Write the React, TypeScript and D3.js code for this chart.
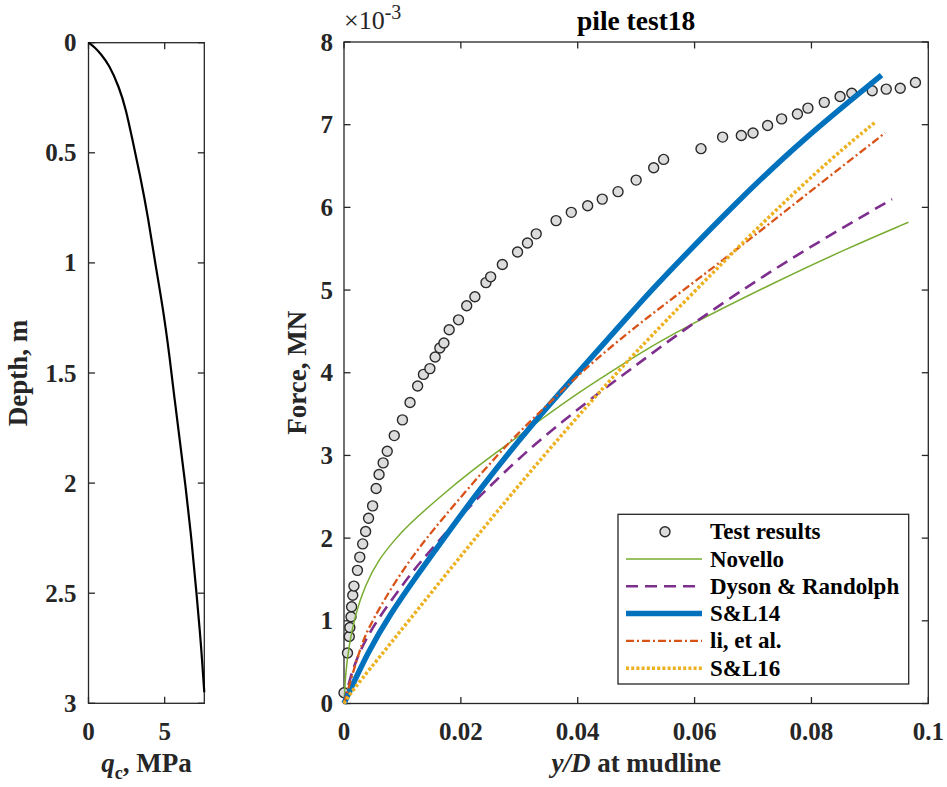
import React from "react";
import * as d3 from "d3";

// ---------- Left panel: CPT profile ----------
const cptDepth = [0, 0.02, 0.05, 0.1, 0.2, 0.3, 0.44, 0.6, 0.8, 1.0, 1.2, 1.44, 1.62, 1.8, 2.0, 2.26, 2.51, 2.68, 2.8, 2.95];
const cptQc = [0, 0.4, 0.8, 1.35, 2.0, 2.45, 2.88, 3.38, 3.93, 4.37, 4.88, 5.35, 5.65, 5.98, 6.35, 6.77, 7.1, 7.32, 7.45, 7.6];
const leftXTicks = [0, 5];
const leftYTicks = [0, 0.5, 1, 1.5, 2, 2.5, 3];

// ---------- Right panel: load-displacement ----------
const testX = [0.0, 0.0006, 0.0009, 0.001, 0.0012, 0.0013, 0.0015, 0.0017, 0.0023, 0.0027, 0.0032, 0.0037, 0.0042, 0.0049, 0.0055, 0.006, 0.0067, 0.0074, 0.0086, 0.01, 0.0113, 0.0126, 0.0136, 0.0147, 0.0156, 0.0164, 0.0171, 0.018, 0.0196, 0.021, 0.0224, 0.0243, 0.0251, 0.0271, 0.0297, 0.0314, 0.0329, 0.0363, 0.0389, 0.0417, 0.0442, 0.0469, 0.05, 0.053, 0.0547, 0.0611, 0.0648, 0.068, 0.07, 0.0725, 0.0749, 0.0776, 0.0794, 0.0822, 0.0849, 0.0869, 0.0904, 0.0928, 0.0952, 0.0978];
const testY = [0.13, 0.61, 0.81, 0.92, 1.05, 1.17, 1.31, 1.42, 1.61, 1.77, 1.93, 2.08, 2.24, 2.39, 2.6, 2.77, 2.91, 3.05, 3.24, 3.43, 3.64, 3.84, 3.98, 4.05, 4.19, 4.3, 4.36, 4.52, 4.64, 4.81, 4.92, 5.09, 5.16, 5.31, 5.46, 5.57, 5.68, 5.84, 5.94, 6.02, 6.1, 6.19, 6.33, 6.48, 6.58, 6.71, 6.85, 6.87, 6.9, 6.99, 7.07, 7.13, 7.2, 7.27, 7.34, 7.38, 7.41, 7.43, 7.44, 7.51];

const novelloX = [0, 0.0003, 0.0009, 0.0019, 0.0036, 0.0059, 0.0087, 0.0107, 0.0164, 0.0221, 0.0279, 0.0336, 0.0393, 0.045, 0.0507, 0.0581, 0.0724, 0.0866, 0.0966];
const novelloY = [0, 0.4, 0.72, 1.07, 1.43, 1.74, 1.98, 2.14, 2.5, 2.83, 3.13, 3.43, 3.72, 3.98, 4.24, 4.54, 5.05, 5.52, 5.82];

const dysonX = [0, 0.001, 0.0022, 0.0047, 0.0107, 0.0127, 0.017, 0.0216, 0.0313, 0.0376, 0.0438, 0.0502, 0.0558, 0.0672, 0.0787, 0.0938];
const dysonY = [0, 0.3, 0.55, 0.92, 1.5, 1.68, 2.03, 2.4, 3.06, 3.42, 3.77, 4.1, 4.4, 4.96, 5.48, 6.1];

const sl14X = [0, 0.0042, 0.0079, 0.0122, 0.0164, 0.0233, 0.0324, 0.0404, 0.0438, 0.0507, 0.0553, 0.0667, 0.0781, 0.092];
const sl14Y = [0, 0.64, 1.08, 1.52, 1.93, 2.6, 3.4, 4.03, 4.3, 4.85, 5.2, 6.03, 6.8, 7.6];

const liX = [0, 0.0027, 0.0042, 0.0079, 0.0119, 0.0164, 0.0267, 0.0324, 0.0421, 0.0507, 0.0553, 0.0667, 0.0781, 0.0926];
const liY = [0, 0.66, 0.92, 1.38, 1.8, 2.2, 3.05, 3.45, 4.11, 4.6, 4.85, 5.46, 6.1, 6.9];

const sl16X = [0, 0.001, 0.0079, 0.0164, 0.025, 0.0336, 0.0421, 0.0495, 0.061, 0.0724, 0.0838, 0.0911];
const sl16Y = [0, 0.12, 0.72, 1.47, 2.22, 2.95, 3.64, 4.22, 5.06, 5.87, 6.62, 7.04];

const rightXTicks = [0, 0.02, 0.04, 0.06, 0.08, 0.1];
const rightXTickLabels = ["0", "0.02", "0.04", "0.06", "0.08", "0.1"];
const rightYTicks = [0, 1, 2, 3, 4, 5, 6, 7, 8];
const legendLabels = ["Test results", "Novello", "Dyson & Randolph", "S&L14", "li, et al.", "S&L16"];

const FONT = "'Liberation Serif', 'Times New Roman', serif";
const AX = "#262626";
const TL = 6.5;

type Pt = [number, number];
const zip = (a: number[], b: number[]): Pt[] => a.map((v, i) => [v, b[i]]);

const T = (props: any) => <text fontFamily={FONT} fontWeight="bold" {...props} style={{ fontFamily: FONT }} />;

export default function App() {
  const xL = d3.scaleLinear().domain([0, 7.6]).range([88.5, 204.3]);
  const yL = d3.scaleLinear().domain([0, 3]).range([42.7, 703.3]);
  const xR = d3.scaleLinear().domain([0, 0.1]).range([344, 928.3]);
  const yR = d3.scaleLinear().domain([0, 8]).range([703.5, 42]);

  const cptLine = d3
    .line<Pt>()
    .x((d) => xL(d[0]))
    .y((d) => yL(d[1]))
    .curve(d3.curveBasis)(zip(cptQc, cptDepth)) as string;

  const mk = (xs: number[], ys: number[]) =>
    d3
      .line<Pt>()
      .x((d) => xR(d[0]))
      .y((d) => yR(d[1]))
      .curve(d3.curveBasis)(zip(xs, ys)) as string;

  const series = [
    { d: mk(novelloX, novelloY), stroke: "#77AC30", w: 1.5, dash: undefined as string | undefined },
    { d: mk(dysonX, dysonY), stroke: "#7E2F8E", w: 2.6, dash: "12,7" },
    { d: mk(sl14X, sl14Y), stroke: "#0072BD", w: 5.5, dash: undefined },
    { d: mk(liX, liY), stroke: "#D95319", w: 2.3, dash: "8,3,2,3" },
    { d: mk(sl16X, sl16Y), stroke: "#EDB120", w: 3.5, dash: "3,2.2" },
  ];

  const lx0 = xL.range()[0], lx1 = xL.range()[1];
  const ly0 = yL.range()[0], ly1 = yL.range()[1];
  const rx0 = xR.range()[0], rx1 = xR.range()[1];
  const ryTop = yR.range()[1], ryBot = yR.range()[0];

  const legX = 618, legY = 514.3, legW = 290.7, legH = 169.7;
  const rowY = (i: number) => 531.7 + i * 27.3;

  return (
    <svg
      width={947}
      height={787}
      style={{ position: "absolute", left: 0, top: 0, background: "#fff" }}
    >
      <rect x={0} y={0} width={947} height={787} fill="#fff" />

      {/* ---------------- LEFT PANEL ---------------- */}
      <rect x={lx0} y={ly0} width={lx1 - lx0} height={ly1 - ly0} fill="#fff" stroke={AX} strokeWidth={1.3} />
      {leftYTicks.map((t) => (
        <g key={"ly" + t}>
          <line x1={lx0} x2={lx0 + TL} y1={yL(t)} y2={yL(t)} stroke={AX} strokeWidth={1.3} />
          <line x1={lx1} x2={lx1 - TL} y1={yL(t)} y2={yL(t)} stroke={AX} strokeWidth={1.3} />
          <T x={lx0 - 12} y={yL(t)} textAnchor="end" dominantBaseline="central" fontSize={25} fill="#262626">
            {String(t)}
          </T>
        </g>
      ))}
      {leftXTicks.map((t) => (
        <g key={"lx" + t}>
          <line x1={xL(t)} x2={xL(t)} y1={ly1} y2={ly1 - TL} stroke={AX} strokeWidth={1.3} />
          <line x1={xL(t)} x2={xL(t)} y1={ly0} y2={ly0 + TL} stroke={AX} strokeWidth={1.3} />
          <T x={xL(t)} y={731.7} textAnchor="middle" dominantBaseline="central" fontSize={25} fill="#262626">
            {String(t)}
          </T>
        </g>
      ))}
      <path d={cptLine} fill="none" stroke="#000" strokeWidth={2.2} />
      <T x={(lx0 + lx1) / 2} y={772} textAnchor="middle" fontSize={27} fill="#262626">
        <tspan fontStyle="italic">q</tspan>
        <tspan fontSize={18} dy={7}>c</tspan>
        <tspan dy={-7}>, MPa</tspan>
      </T>
      <T transform={`translate(27,${(ly0 + ly1) / 2}) rotate(-90)`} textAnchor="middle" fontSize={27} fill="#262626">
        Depth, m
      </T>

      {/* ---------------- RIGHT PANEL ---------------- */}
      <rect x={rx0} y={ryTop} width={rx1 - rx0} height={ryBot - ryTop} fill="#fff" stroke={AX} strokeWidth={1.3} />
      {rightYTicks.map((t) => (
        <g key={"ry" + t}>
          <line x1={rx0} x2={rx0 + TL} y1={yR(t)} y2={yR(t)} stroke={AX} strokeWidth={1.3} />
          <line x1={rx1} x2={rx1 - TL} y1={yR(t)} y2={yR(t)} stroke={AX} strokeWidth={1.3} />
          <T x={rx0 - 11} y={yR(t)} textAnchor="end" dominantBaseline="central" fontSize={25} fill="#262626">
            {String(t)}
          </T>
        </g>
      ))}
      {rightXTicks.map((t, i) => (
        <g key={"rx" + t}>
          <line x1={xR(t)} x2={xR(t)} y1={ryBot} y2={ryBot - TL} stroke={AX} strokeWidth={1.3} />
          <line x1={xR(t)} x2={xR(t)} y1={ryTop} y2={ryTop + TL} stroke={AX} strokeWidth={1.3} />
          <T x={xR(t)} y={731.7} textAnchor="middle" dominantBaseline="central" fontSize={25} fill="#262626">
            {rightXTickLabels[i]}
          </T>
        </g>
      ))}

      {testX.map((x, i) => (
        <circle key={"p" + i} cx={xR(x)} cy={yR(testY[i])} r={5} fill="#dcdcdc" stroke="#2a2a2a" strokeWidth={1.4} />
      ))}
      {series.map((s, i) => (
        <path key={"s" + i} d={s.d} fill="none" stroke={s.stroke} strokeWidth={s.w} strokeDasharray={s.dash} />
      ))}

      <T x={344} y={29} fontSize={26} fill="#262626" fontWeight="normal">
        ×10
        <tspan fontSize={20} dy={-10}>-3</tspan>
      </T>
      <T x={(rx0 + rx1) / 2} y={30} textAnchor="middle" fontSize={27.5} fill="#000">
        pile test18
      </T>
      <T x={(rx0 + rx1) / 2} y={772} textAnchor="middle" fontSize={27} fill="#262626">
        <tspan fontStyle="italic">y/D</tspan>
        <tspan> at mudline</tspan>
      </T>
      <T transform={`translate(306,${(ryTop + ryBot) / 2}) rotate(-90)`} textAnchor="middle" fontSize={27} fill="#262626">
        Force, MN
      </T>

      {/* legend */}
      <rect x={legX} y={legY} width={legW} height={legH} fill="#fff" stroke={AX} strokeWidth={1.3} />
      <circle cx={665} cy={rowY(0)} r={5} fill="#dcdcdc" stroke="#2a2a2a" strokeWidth={1.4} />
      {series.map((s, i) => (
        <line
          key={"lg" + i}
          x1={626}
          x2={702}
          y1={rowY(i + 1)}
          y2={rowY(i + 1)}
          stroke={s.stroke}
          strokeWidth={s.w}
          strokeDasharray={s.dash}
        />
      ))}
      {legendLabels.map((l, i) => (
        <T key={"lt" + i} x={710} y={rowY(i)} dominantBaseline="central" fontSize={23} fill="#000">
          {l}
        </T>
      ))}
    </svg>
  );
}
